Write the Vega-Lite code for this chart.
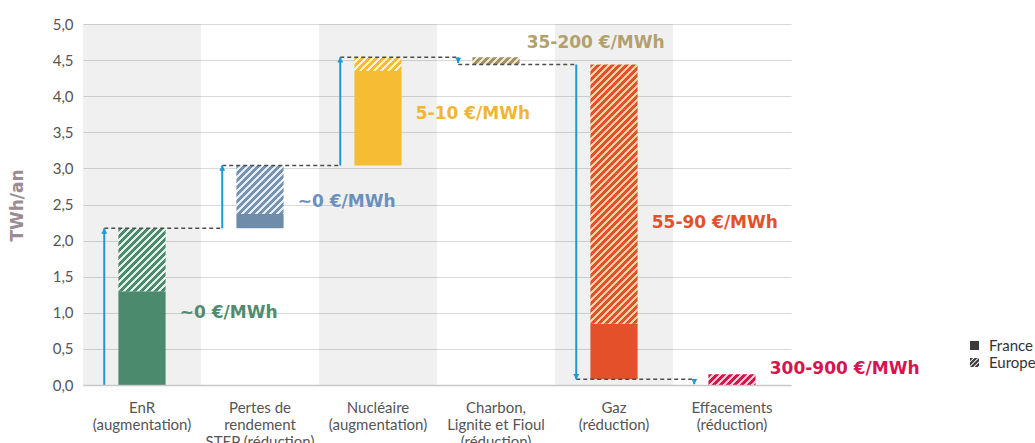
{
"$schema": "https://vega.github.io/schema/vega-lite/v6.json",
"width": 708,
"height": 361,
"autosize": "none",
"padding": {"left": 83, "top": 24, "right": 244, "bottom": 58},
"background": "white",
"config": {"view": {"stroke": null}, "font": "Lato",
"axisY": {"tickCount": 20, "grid": true, "gridColor": "#d9d9d9", "gridWidth": 1.2, "domain": false, "ticks": false, "labelFont": "Lato", "labelFontSize": 15, "labelColor": "#555555", "labelPadding": 10}},
"datasets": {
"bands": [{"cat": "EnR|(augmentation)"}, {"cat": "Nucléaire|(augmentation)"}, {"cat": "Gaz|(réduction)"}],
"bars": [
{"cat": "EnR|(augmentation)", "region": "France", "y0": 0, "y1": 1.3},
{"cat": "EnR|(augmentation)", "region": "Europe", "y0": 1.3, "y1": 2.17},
{"cat": "Pertes de|rendement|STEP (réduction)", "region": "France", "y0": 2.17, "y1": 2.37},
{"cat": "Pertes de|rendement|STEP (réduction)", "region": "Europe", "y0": 2.37, "y1": 3.04},
{"cat": "Nucléaire|(augmentation)", "region": "France", "y0": 3.04, "y1": 4.35},
{"cat": "Nucléaire|(augmentation)", "region": "Europe", "y0": 4.35, "y1": 4.54},
{"cat": "Charbon,|Lignite et Fioul|(réduction)", "region": "Europe", "y0": 4.44, "y1": 4.54},
{"cat": "Gaz|(réduction)", "region": "France", "y0": 0.08, "y1": 0.85},
{"cat": "Gaz|(réduction)", "region": "Europe", "y0": 0.85, "y1": 4.44},
{"cat": "Effacements|(réduction)", "region": "Europe", "y0": 0, "y1": 0.15}
],
"arrows": [
{"cat": "EnR|(augmentation)", "from": 0, "to": 2.17},
{"cat": "Pertes de|rendement|STEP (réduction)", "from": 2.17, "to": 3.04},
{"cat": "Nucléaire|(augmentation)", "from": 3.04, "to": 4.54},
{"cat": "Charbon,|Lignite et Fioul|(réduction)", "from": 4.54, "to": 4.46},
{"cat": "Gaz|(réduction)", "from": 4.44, "to": 0.08},
{"cat": "Effacements|(réduction)", "from": 0.08, "to": 0.01}
],
"links": [
{"from": "EnR|(augmentation)", "to": "Pertes de|rendement|STEP (réduction)", "y": 2.17},
{"from": "Pertes de|rendement|STEP (réduction)", "to": "Nucléaire|(augmentation)", "y": 3.04},
{"from": "Nucléaire|(augmentation)", "to": "Charbon,|Lignite et Fioul|(réduction)", "y": 4.54},
{"from": "Charbon,|Lignite et Fioul|(réduction)", "to": "Gaz|(réduction)", "y": 4.44},
{"from": "Gaz|(réduction)", "to": "Effacements|(réduction)", "y": 0.08}
],
"notes": [
{"cat": "EnR|(augmentation)", "label": "~0 €/MWh", "y": 1.0},
{"cat": "Pertes de|rendement|STEP (réduction)", "label": "~0 €/MWh", "y": 2.54},
{"cat": "Nucléaire|(augmentation)", "label": "5-10 €/MWh", "y": 3.75},
{"cat": "Charbon,|Lignite et Fioul|(réduction)", "label": "35-200 €/MWh", "y": 4.73},
{"cat": "Gaz|(réduction)", "label": "55-90 €/MWh", "y": 2.24},
{"cat": "Effacements|(réduction)", "label": "300-900 €/MWh", "y": 0.22}
]
},
"encoding": {
"x": {"field": "cat", "type": "nominal",
"scale": {"domain": ["EnR|(augmentation)", "Pertes de|rendement|STEP (réduction)", "Nucléaire|(augmentation)", "Charbon,|Lignite et Fioul|(réduction)", "Gaz|(réduction)", "Effacements|(réduction)"], "paddingInner": 0, "paddingOuter": 0},
"axis": {"title": null, "labelAngle": 0, "labelExpr": "split(datum.label, '|')", "labelFont": "Lato", "labelFontSize": 15, "labelColor": "#555555", "labelLineHeight": 17, "labelPadding": 15, "ticks": false, "domain": true, "domainColor": "#c8c8c8", "domainWidth": 1.5, "labelLimit": 300}}
},
"layer": [
{"data": {"name": "bands"}, "mark": {"type": "rect", "color": "#000000", "opacity": 0.06},
"encoding": {"y": {"value": 0}, "y2": {"value": "height"}}},
{"data": {"name": "bars"}, "transform": [{"filter": "datum.region === 'France'"}],
"mark": {"type": "bar", "width": {"band": 0.4}},
"encoding": {
"y": {"field": "y0", "type": "quantitative", "title": "TWh/an", "scale": {"domain": [0, 5], "nice": false},
"axis": {"tickCount": 20, "values": [0, 0.5, 1, 1.5, 2, 2.5, 3, 3.5, 4, 4.5, 5], "labelOverlap": false, "grid": true, "gridColor": "#d9d9d9", "gridWidth": 1.2, "domain": false, "ticks": false, "labelExpr": "replace(format(datum.value, '.1f'), '.', ',')", "labelFont": "Lato", "labelFontSize": 15, "labelColor": "#555555", "labelPadding": 10, "title": "TWh/an", "titleFont": "DejaVu Sans", "titleFontSize": 17, "titleFontWeight": "bold", "titleColor": "#9b8b93", "titleX": -57, "titleY": 181, "titleAngle": 270, "titleAlign": "center"}},
"y2": {"field": "y1"},
"color": {"field": "cat", "type": "nominal", "legend": null,
"scale": {"domain": ["EnR|(augmentation)", "Pertes de|rendement|STEP (réduction)", "Nucléaire|(augmentation)", "Charbon,|Lignite et Fioul|(réduction)", "Gaz|(réduction)", "Effacements|(réduction)"], "range": ["#4b8a6d", "#6f8caa", "#f6bc33", "#a09260", "#e4502a", "#d4164f"]}}
}},
{"data": {"name": "bars"}, "transform": [{"filter": "datum.region === 'Europe' && datum.cat === 'EnR|(augmentation)'"}],
"mark": {"type": "bar", "width": {"band": 0.4}, "color": {"gradient": "linear", "x1": 0, "y1": 0, "x2": 2.3549, "y2": 3.1339, "stops": [
{"offset":0,"color":"#4b8a6d"},{"offset":0.013,"color":"#4b8a6d"},{"offset":0.013,"color":"#e2efe8"},{"offset":0.0227,"color":"#e2efe8"},
{"offset":0.0227,"color":"#4b8a6d"},{"offset":0.0357,"color":"#4b8a6d"},{"offset":0.0357,"color":"#e2efe8"},{"offset":0.0455,"color":"#e2efe8"},
{"offset":0.0455,"color":"#4b8a6d"},{"offset":0.0584,"color":"#4b8a6d"},{"offset":0.0584,"color":"#e2efe8"},{"offset":0.0682,"color":"#e2efe8"},
{"offset":0.0682,"color":"#4b8a6d"},{"offset":0.0812,"color":"#4b8a6d"},{"offset":0.0812,"color":"#e2efe8"},{"offset":0.0909,"color":"#e2efe8"},
{"offset":0.0909,"color":"#4b8a6d"},{"offset":0.1039,"color":"#4b8a6d"},{"offset":0.1039,"color":"#e2efe8"},{"offset":0.1136,"color":"#e2efe8"},
{"offset":0.1136,"color":"#4b8a6d"},{"offset":0.1266,"color":"#4b8a6d"},{"offset":0.1266,"color":"#e2efe8"},{"offset":0.1364,"color":"#e2efe8"},
{"offset":0.1364,"color":"#4b8a6d"},{"offset":0.1494,"color":"#4b8a6d"},{"offset":0.1494,"color":"#e2efe8"},{"offset":0.1591,"color":"#e2efe8"},
{"offset":0.1591,"color":"#4b8a6d"},{"offset":0.1721,"color":"#4b8a6d"},{"offset":0.1721,"color":"#e2efe8"},{"offset":0.1818,"color":"#e2efe8"},
{"offset":0.1818,"color":"#4b8a6d"},{"offset":0.1948,"color":"#4b8a6d"},{"offset":0.1948,"color":"#e2efe8"},{"offset":0.2045,"color":"#e2efe8"},
{"offset":0.2045,"color":"#4b8a6d"},{"offset":0.2175,"color":"#4b8a6d"},{"offset":0.2175,"color":"#e2efe8"},{"offset":0.2273,"color":"#e2efe8"},
{"offset":0.2273,"color":"#4b8a6d"},{"offset":0.2403,"color":"#4b8a6d"},{"offset":0.2403,"color":"#e2efe8"},{"offset":0.25,"color":"#e2efe8"},
{"offset":0.25,"color":"#4b8a6d"},{"offset":0.263,"color":"#4b8a6d"},{"offset":0.263,"color":"#e2efe8"},{"offset":0.2727,"color":"#e2efe8"},
{"offset":0.2727,"color":"#4b8a6d"},{"offset":0.2857,"color":"#4b8a6d"},{"offset":0.2857,"color":"#e2efe8"},{"offset":0.2955,"color":"#e2efe8"},
{"offset":0.2955,"color":"#4b8a6d"},{"offset":0.3084,"color":"#4b8a6d"},{"offset":0.3084,"color":"#e2efe8"},{"offset":0.3182,"color":"#e2efe8"},
{"offset":0.3182,"color":"#4b8a6d"},{"offset":0.3312,"color":"#4b8a6d"},{"offset":0.3312,"color":"#e2efe8"},{"offset":0.3409,"color":"#e2efe8"},
{"offset":0.3409,"color":"#4b8a6d"},{"offset":0.3539,"color":"#4b8a6d"},{"offset":0.3539,"color":"#e2efe8"},{"offset":0.3636,"color":"#e2efe8"}
]}},
"encoding": {"y": {"field": "y0", "type": "quantitative", "title": "TWh/an"}, "y2": {"field": "y1"}}},
{"data": {"name": "bars"}, "transform": [{"filter": "datum.region === 'Europe' && datum.cat === 'Pertes de|rendement|STEP (réduction)'"}],
"mark": {"type": "bar", "width": {"band": 0.4}, "color": {"gradient": "linear", "x1": 0, "y1": 0, "x2": 3.1826, "y2": 3.2618, "stops": [
{"offset":0,"color":"#7693b0"},{"offset":0.013,"color":"#7693b0"},{"offset":0.013,"color":"#e6ecf3"},{"offset":0.0227,"color":"#e6ecf3"},
{"offset":0.0227,"color":"#7693b0"},{"offset":0.0357,"color":"#7693b0"},{"offset":0.0357,"color":"#e6ecf3"},{"offset":0.0455,"color":"#e6ecf3"},
{"offset":0.0455,"color":"#7693b0"},{"offset":0.0584,"color":"#7693b0"},{"offset":0.0584,"color":"#e6ecf3"},{"offset":0.0682,"color":"#e6ecf3"},
{"offset":0.0682,"color":"#7693b0"},{"offset":0.0812,"color":"#7693b0"},{"offset":0.0812,"color":"#e6ecf3"},{"offset":0.0909,"color":"#e6ecf3"},
{"offset":0.0909,"color":"#7693b0"},{"offset":0.1039,"color":"#7693b0"},{"offset":0.1039,"color":"#e6ecf3"},{"offset":0.1136,"color":"#e6ecf3"},
{"offset":0.1136,"color":"#7693b0"},{"offset":0.1266,"color":"#7693b0"},{"offset":0.1266,"color":"#e6ecf3"},{"offset":0.1364,"color":"#e6ecf3"},
{"offset":0.1364,"color":"#7693b0"},{"offset":0.1494,"color":"#7693b0"},{"offset":0.1494,"color":"#e6ecf3"},{"offset":0.1591,"color":"#e6ecf3"},
{"offset":0.1591,"color":"#7693b0"},{"offset":0.1721,"color":"#7693b0"},{"offset":0.1721,"color":"#e6ecf3"},{"offset":0.1818,"color":"#e6ecf3"},
{"offset":0.1818,"color":"#7693b0"},{"offset":0.1948,"color":"#7693b0"},{"offset":0.1948,"color":"#e6ecf3"},{"offset":0.2045,"color":"#e6ecf3"},
{"offset":0.2045,"color":"#7693b0"},{"offset":0.2175,"color":"#7693b0"},{"offset":0.2175,"color":"#e6ecf3"},{"offset":0.2273,"color":"#e6ecf3"},
{"offset":0.2273,"color":"#7693b0"},{"offset":0.2403,"color":"#7693b0"},{"offset":0.2403,"color":"#e6ecf3"},{"offset":0.25,"color":"#e6ecf3"},
{"offset":0.25,"color":"#7693b0"},{"offset":0.263,"color":"#7693b0"},{"offset":0.263,"color":"#e6ecf3"},{"offset":0.2727,"color":"#e6ecf3"},
{"offset":0.2727,"color":"#7693b0"},{"offset":0.2857,"color":"#7693b0"},{"offset":0.2857,"color":"#e6ecf3"},{"offset":0.2955,"color":"#e6ecf3"},
{"offset":0.2955,"color":"#7693b0"},{"offset":0.3084,"color":"#7693b0"},{"offset":0.3084,"color":"#e6ecf3"},{"offset":0.3182,"color":"#e6ecf3"}
]}},
"encoding": {"y": {"field": "y0", "type": "quantitative", "title": "TWh/an"}, "y2": {"field": "y1"}}},
{"data": {"name": "bars"}, "transform": [{"filter": "datum.region === 'Europe' && datum.cat === 'Nucléaire|(augmentation)'"}],
"mark": {"type": "bar", "width": {"band": 0.4}, "color": {"gradient": "linear", "x1": 0, "y1": 0, "x2": 6.0172, "y2": 1.7488, "stops": [
{"offset":0,"color":"#f6bc33"},{"offset":0.013,"color":"#f6bc33"},{"offset":0.013,"color":"#fdf1d2"},{"offset":0.0227,"color":"#fdf1d2"},
{"offset":0.0227,"color":"#f6bc33"},{"offset":0.0357,"color":"#f6bc33"},{"offset":0.0357,"color":"#fdf1d2"},{"offset":0.0455,"color":"#fdf1d2"},
{"offset":0.0455,"color":"#f6bc33"},{"offset":0.0584,"color":"#f6bc33"},{"offset":0.0584,"color":"#fdf1d2"},{"offset":0.0682,"color":"#fdf1d2"},
{"offset":0.0682,"color":"#f6bc33"},{"offset":0.0812,"color":"#f6bc33"},{"offset":0.0812,"color":"#fdf1d2"},{"offset":0.0909,"color":"#fdf1d2"},
{"offset":0.0909,"color":"#f6bc33"},{"offset":0.1039,"color":"#f6bc33"},{"offset":0.1039,"color":"#fdf1d2"},{"offset":0.1136,"color":"#fdf1d2"},
{"offset":0.1136,"color":"#f6bc33"},{"offset":0.1266,"color":"#f6bc33"},{"offset":0.1266,"color":"#fdf1d2"},{"offset":0.1364,"color":"#fdf1d2"},
{"offset":0.1364,"color":"#f6bc33"},{"offset":0.1494,"color":"#f6bc33"},{"offset":0.1494,"color":"#fdf1d2"},{"offset":0.1591,"color":"#fdf1d2"},
{"offset":0.1591,"color":"#f6bc33"},{"offset":0.1721,"color":"#f6bc33"},{"offset":0.1721,"color":"#fdf1d2"},{"offset":0.1818,"color":"#fdf1d2"},
{"offset":0.1818,"color":"#f6bc33"},{"offset":0.1948,"color":"#f6bc33"},{"offset":0.1948,"color":"#fdf1d2"},{"offset":0.2045,"color":"#fdf1d2"}
]}},
"encoding": {"y": {"field": "y0", "type": "quantitative", "title": "TWh/an"}, "y2": {"field": "y1"}}},
{"data": {"name": "bars"}, "transform": [{"filter": "datum.region === 'Europe' && datum.cat === 'Charbon,|Lignite et Fioul|(réduction)'"}],
"mark": {"type": "bar", "width": {"band": 0.4}, "color": {"gradient": "linear", "x1": 0, "y1": 0, "x2": 6.3762, "y2": 0.9753, "stops": [
{"offset":0,"color":"#a09260"},{"offset":0.013,"color":"#a09260"},{"offset":0.013,"color":"#ebe5cf"},{"offset":0.0227,"color":"#ebe5cf"},
{"offset":0.0227,"color":"#a09260"},{"offset":0.0357,"color":"#a09260"},{"offset":0.0357,"color":"#ebe5cf"},{"offset":0.0455,"color":"#ebe5cf"},
{"offset":0.0455,"color":"#a09260"},{"offset":0.0584,"color":"#a09260"},{"offset":0.0584,"color":"#ebe5cf"},{"offset":0.0682,"color":"#ebe5cf"},
{"offset":0.0682,"color":"#a09260"},{"offset":0.0812,"color":"#a09260"},{"offset":0.0812,"color":"#ebe5cf"},{"offset":0.0909,"color":"#ebe5cf"},
{"offset":0.0909,"color":"#a09260"},{"offset":0.1039,"color":"#a09260"},{"offset":0.1039,"color":"#ebe5cf"},{"offset":0.1136,"color":"#ebe5cf"},
{"offset":0.1136,"color":"#a09260"},{"offset":0.1266,"color":"#a09260"},{"offset":0.1266,"color":"#ebe5cf"},{"offset":0.1364,"color":"#ebe5cf"},
{"offset":0.1364,"color":"#a09260"},{"offset":0.1494,"color":"#a09260"},{"offset":0.1494,"color":"#ebe5cf"},{"offset":0.1591,"color":"#ebe5cf"},
{"offset":0.1591,"color":"#a09260"},{"offset":0.1721,"color":"#a09260"},{"offset":0.1721,"color":"#ebe5cf"},{"offset":0.1818,"color":"#ebe5cf"}
]}},
"encoding": {"y": {"field": "y0", "type": "quantitative", "title": "TWh/an"}, "y2": {"field": "y1"}}},
{"data": {"name": "bars"}, "transform": [{"filter": "datum.region === 'Europe' && datum.cat === 'Gaz|(réduction)'"}],
"mark": {"type": "bar", "width": {"band": 0.4}, "color": {"gradient": "linear", "x1": 0, "y1": 0, "x2": 0.2094, "y2": 1.1501, "stops": [
{"offset":0,"color":"#e4502a"},{"offset":0.013,"color":"#e4502a"},{"offset":0.013,"color":"#f8d2a4"},{"offset":0.0227,"color":"#f8d2a4"},
{"offset":0.0227,"color":"#e4502a"},{"offset":0.0357,"color":"#e4502a"},{"offset":0.0357,"color":"#f8d2a4"},{"offset":0.0455,"color":"#f8d2a4"},
{"offset":0.0455,"color":"#e4502a"},{"offset":0.0584,"color":"#e4502a"},{"offset":0.0584,"color":"#f8d2a4"},{"offset":0.0682,"color":"#f8d2a4"},
{"offset":0.0682,"color":"#e4502a"},{"offset":0.0812,"color":"#e4502a"},{"offset":0.0812,"color":"#f8d2a4"},{"offset":0.0909,"color":"#f8d2a4"},
{"offset":0.0909,"color":"#e4502a"},{"offset":0.1039,"color":"#e4502a"},{"offset":0.1039,"color":"#f8d2a4"},{"offset":0.1136,"color":"#f8d2a4"},
{"offset":0.1136,"color":"#e4502a"},{"offset":0.1266,"color":"#e4502a"},{"offset":0.1266,"color":"#f8d2a4"},{"offset":0.1364,"color":"#f8d2a4"},
{"offset":0.1364,"color":"#e4502a"},{"offset":0.1494,"color":"#e4502a"},{"offset":0.1494,"color":"#f8d2a4"},{"offset":0.1591,"color":"#f8d2a4"},
{"offset":0.1591,"color":"#e4502a"},{"offset":0.1721,"color":"#e4502a"},{"offset":0.1721,"color":"#f8d2a4"},{"offset":0.1818,"color":"#f8d2a4"},
{"offset":0.1818,"color":"#e4502a"},{"offset":0.1948,"color":"#e4502a"},{"offset":0.1948,"color":"#f8d2a4"},{"offset":0.2045,"color":"#f8d2a4"},
{"offset":0.2045,"color":"#e4502a"},{"offset":0.2175,"color":"#e4502a"},{"offset":0.2175,"color":"#f8d2a4"},{"offset":0.2273,"color":"#f8d2a4"},
{"offset":0.2273,"color":"#e4502a"},{"offset":0.2403,"color":"#e4502a"},{"offset":0.2403,"color":"#f8d2a4"},{"offset":0.25,"color":"#f8d2a4"},
{"offset":0.25,"color":"#e4502a"},{"offset":0.263,"color":"#e4502a"},{"offset":0.263,"color":"#f8d2a4"},{"offset":0.2727,"color":"#f8d2a4"},
{"offset":0.2727,"color":"#e4502a"},{"offset":0.2857,"color":"#e4502a"},{"offset":0.2857,"color":"#f8d2a4"},{"offset":0.2955,"color":"#f8d2a4"},
{"offset":0.2955,"color":"#e4502a"},{"offset":0.3084,"color":"#e4502a"},{"offset":0.3084,"color":"#f8d2a4"},{"offset":0.3182,"color":"#f8d2a4"},
{"offset":0.3182,"color":"#e4502a"},{"offset":0.3312,"color":"#e4502a"},{"offset":0.3312,"color":"#f8d2a4"},{"offset":0.3409,"color":"#f8d2a4"},
{"offset":0.3409,"color":"#e4502a"},{"offset":0.3539,"color":"#e4502a"},{"offset":0.3539,"color":"#f8d2a4"},{"offset":0.3636,"color":"#f8d2a4"},
{"offset":0.3636,"color":"#e4502a"},{"offset":0.3766,"color":"#e4502a"},{"offset":0.3766,"color":"#f8d2a4"},{"offset":0.3864,"color":"#f8d2a4"},
{"offset":0.3864,"color":"#e4502a"},{"offset":0.3994,"color":"#e4502a"},{"offset":0.3994,"color":"#f8d2a4"},{"offset":0.4091,"color":"#f8d2a4"},
{"offset":0.4091,"color":"#e4502a"},{"offset":0.4221,"color":"#e4502a"},{"offset":0.4221,"color":"#f8d2a4"},{"offset":0.4318,"color":"#f8d2a4"},
{"offset":0.4318,"color":"#e4502a"},{"offset":0.4448,"color":"#e4502a"},{"offset":0.4448,"color":"#f8d2a4"},{"offset":0.4545,"color":"#f8d2a4"},
{"offset":0.4545,"color":"#e4502a"},{"offset":0.4675,"color":"#e4502a"},{"offset":0.4675,"color":"#f8d2a4"},{"offset":0.4773,"color":"#f8d2a4"},
{"offset":0.4773,"color":"#e4502a"},{"offset":0.4903,"color":"#e4502a"},{"offset":0.4903,"color":"#f8d2a4"},{"offset":0.5,"color":"#f8d2a4"},
{"offset":0.5,"color":"#e4502a"},{"offset":0.513,"color":"#e4502a"},{"offset":0.513,"color":"#f8d2a4"},{"offset":0.5227,"color":"#f8d2a4"},
{"offset":0.5227,"color":"#e4502a"},{"offset":0.5357,"color":"#e4502a"},{"offset":0.5357,"color":"#f8d2a4"},{"offset":0.5455,"color":"#f8d2a4"},
{"offset":0.5455,"color":"#e4502a"},{"offset":0.5584,"color":"#e4502a"},{"offset":0.5584,"color":"#f8d2a4"},{"offset":0.5682,"color":"#f8d2a4"},
{"offset":0.5682,"color":"#e4502a"},{"offset":0.5812,"color":"#e4502a"},{"offset":0.5812,"color":"#f8d2a4"},{"offset":0.5909,"color":"#f8d2a4"},
{"offset":0.5909,"color":"#e4502a"},{"offset":0.6039,"color":"#e4502a"},{"offset":0.6039,"color":"#f8d2a4"},{"offset":0.6136,"color":"#f8d2a4"},
{"offset":0.6136,"color":"#e4502a"},{"offset":0.6266,"color":"#e4502a"},{"offset":0.6266,"color":"#f8d2a4"},{"offset":0.6364,"color":"#f8d2a4"},
{"offset":0.6364,"color":"#e4502a"},{"offset":0.6494,"color":"#e4502a"},{"offset":0.6494,"color":"#f8d2a4"},{"offset":0.6591,"color":"#f8d2a4"},
{"offset":0.6591,"color":"#e4502a"},{"offset":0.6721,"color":"#e4502a"},{"offset":0.6721,"color":"#f8d2a4"},{"offset":0.6818,"color":"#f8d2a4"},
{"offset":0.6818,"color":"#e4502a"},{"offset":0.6948,"color":"#e4502a"},{"offset":0.6948,"color":"#f8d2a4"},{"offset":0.7045,"color":"#f8d2a4"},
{"offset":0.7045,"color":"#e4502a"},{"offset":0.7175,"color":"#e4502a"},{"offset":0.7175,"color":"#f8d2a4"},{"offset":0.7273,"color":"#f8d2a4"},
{"offset":0.7273,"color":"#e4502a"},{"offset":0.7403,"color":"#e4502a"},{"offset":0.7403,"color":"#f8d2a4"},{"offset":0.75,"color":"#f8d2a4"},
{"offset":0.75,"color":"#e4502a"},{"offset":0.763,"color":"#e4502a"},{"offset":0.763,"color":"#f8d2a4"},{"offset":0.7727,"color":"#f8d2a4"},
{"offset":0.7727,"color":"#e4502a"},{"offset":0.7857,"color":"#e4502a"},{"offset":0.7857,"color":"#f8d2a4"},{"offset":0.7955,"color":"#f8d2a4"},
{"offset":0.7955,"color":"#e4502a"},{"offset":0.8084,"color":"#e4502a"},{"offset":0.8084,"color":"#f8d2a4"},{"offset":0.8182,"color":"#f8d2a4"},
{"offset":0.8182,"color":"#e4502a"},{"offset":0.8312,"color":"#e4502a"},{"offset":0.8312,"color":"#f8d2a4"},{"offset":0.8409,"color":"#f8d2a4"},
{"offset":0.8409,"color":"#e4502a"},{"offset":0.8539,"color":"#e4502a"},{"offset":0.8539,"color":"#f8d2a4"},{"offset":0.8636,"color":"#f8d2a4"},
{"offset":0.8636,"color":"#e4502a"},{"offset":0.8766,"color":"#e4502a"},{"offset":0.8766,"color":"#f8d2a4"},{"offset":0.8864,"color":"#f8d2a4"},
{"offset":0.8864,"color":"#e4502a"},{"offset":0.8994,"color":"#e4502a"},{"offset":0.8994,"color":"#f8d2a4"},{"offset":0.9091,"color":"#f8d2a4"},
{"offset":0.9091,"color":"#e4502a"},{"offset":0.9221,"color":"#e4502a"},{"offset":0.9221,"color":"#f8d2a4"},{"offset":0.9318,"color":"#f8d2a4"},
{"offset":0.9318,"color":"#e4502a"},{"offset":0.9448,"color":"#e4502a"},{"offset":0.9448,"color":"#f8d2a4"},{"offset":0.9545,"color":"#f8d2a4"},
{"offset":0.9545,"color":"#e4502a"},{"offset":0.9675,"color":"#e4502a"},{"offset":0.9675,"color":"#f8d2a4"},{"offset":0.9773,"color":"#f8d2a4"},
{"offset":0.9773,"color":"#e4502a"},{"offset":0.9903,"color":"#e4502a"},{"offset":0.9903,"color":"#f8d2a4"},{"offset":1,"color":"#f8d2a4"}
]}},
"encoding": {"y": {"field": "y0", "type": "quantitative", "title": "TWh/an"}, "y2": {"field": "y1"}}},
{"data": {"name": "bars"}, "transform": [{"filter": "datum.region === 'Europe' && datum.cat === 'Effacements|(réduction)'"}],
"mark": {"type": "bar", "width": {"band": 0.4}, "color": {"gradient": "linear", "x1": 0, "y1": 0, "x2": 6.199, "y2": 1.4224, "stops": [
{"offset":0,"color":"#d4164f"},{"offset":0.013,"color":"#d4164f"},{"offset":0.013,"color":"#f7c9d5"},{"offset":0.0227,"color":"#f7c9d5"},
{"offset":0.0227,"color":"#d4164f"},{"offset":0.0357,"color":"#d4164f"},{"offset":0.0357,"color":"#f7c9d5"},{"offset":0.0455,"color":"#f7c9d5"},
{"offset":0.0455,"color":"#d4164f"},{"offset":0.0584,"color":"#d4164f"},{"offset":0.0584,"color":"#f7c9d5"},{"offset":0.0682,"color":"#f7c9d5"},
{"offset":0.0682,"color":"#d4164f"},{"offset":0.0812,"color":"#d4164f"},{"offset":0.0812,"color":"#f7c9d5"},{"offset":0.0909,"color":"#f7c9d5"},
{"offset":0.0909,"color":"#d4164f"},{"offset":0.1039,"color":"#d4164f"},{"offset":0.1039,"color":"#f7c9d5"},{"offset":0.1136,"color":"#f7c9d5"},
{"offset":0.1136,"color":"#d4164f"},{"offset":0.1266,"color":"#d4164f"},{"offset":0.1266,"color":"#f7c9d5"},{"offset":0.1364,"color":"#f7c9d5"},
{"offset":0.1364,"color":"#d4164f"},{"offset":0.1494,"color":"#d4164f"},{"offset":0.1494,"color":"#f7c9d5"},{"offset":0.1591,"color":"#f7c9d5"},
{"offset":0.1591,"color":"#d4164f"},{"offset":0.1721,"color":"#d4164f"},{"offset":0.1721,"color":"#f7c9d5"},{"offset":0.1818,"color":"#f7c9d5"},
{"offset":0.1818,"color":"#d4164f"},{"offset":0.1948,"color":"#d4164f"},{"offset":0.1948,"color":"#f7c9d5"},{"offset":0.2045,"color":"#f7c9d5"}
]}},
"encoding": {"y": {"field": "y0", "type": "quantitative", "title": "TWh/an"}, "y2": {"field": "y1"}}},
{"data": {"name": "links"}, "mark": {"type": "rule", "color": "#4d4d4d", "strokeWidth": 1.5, "strokeDash": [4, 3]},
"encoding": {"x": {"field": "from", "type": "nominal", "bandPosition": 0.18}, "x2": {"field": "to", "bandPosition": 0.18}, "y": {"field": "y", "type": "quantitative", "title": "TWh/an"}}},
{"data": {"name": "arrows"}, "mark": {"type": "rule", "color": "#1b9ad6", "strokeWidth": 2},
"encoding": {"x": {"field": "cat", "type": "nominal", "bandPosition": 0.18}, "y": {"field": "from", "type": "quantitative", "title": "TWh/an"}, "y2": {"field": "to"}}},
{"data": {"name": "arrows"}, "transform": [{"filter": "datum.to > datum.from"}],
"mark": {"type": "point", "shape": "M0,0L-0.85,1.5L0.85,1.5Z", "filled": true, "color": "#1b9ad6", "size": 50, "opacity": 1},
"encoding": {"x": {"field": "cat", "type": "nominal", "bandPosition": 0.18}, "y": {"field": "to", "type": "quantitative", "title": "TWh/an"}}},
{"data": {"name": "arrows"}, "transform": [{"filter": "datum.to < datum.from"}],
"mark": {"type": "point", "shape": "M0,0L-0.85,-1.5L0.85,-1.5Z", "filled": true, "color": "#1b9ad6", "size": 50, "opacity": 1},
"encoding": {"x": {"field": "cat", "type": "nominal", "bandPosition": 0.18}, "y": {"field": "to", "type": "quantitative", "title": "TWh/an"}}},
{"data": {"name": "notes"}, "transform": [{"filter": "datum.cat !== 'Charbon,|Lignite et Fioul|(réduction)'"}],
"mark": {"type": "text", "align": "left", "baseline": "middle", "font": "DejaVu Sans", "fontWeight": "bold", "fontSize": 17},
"encoding": {"x": {"field": "cat", "type": "nominal", "bandPosition": 0.82}, "y": {"field": "y", "type": "quantitative", "title": "TWh/an"}, "text": {"field": "label"},
"fill": {"field": "cat", "type": "nominal", "legend": null, "scale": {"domain": ["EnR|(augmentation)", "Pertes de|rendement|STEP (réduction)", "Nucléaire|(augmentation)", "Charbon,|Lignite et Fioul|(réduction)", "Gaz|(réduction)", "Effacements|(réduction)"], "range": ["#4f8c70", "#6b90bd", "#f2b531", "#b2a06f", "#e4502a", "#d4164f"]}}}},
{"data": {"name": "notes"}, "transform": [{"filter": "datum.cat === 'Charbon,|Lignite et Fioul|(réduction)'"}],
"mark": {"type": "text", "align": "left", "baseline": "middle", "font": "DejaVu Sans", "fontWeight": "bold", "fontSize": 17},
"encoding": {"x": {"field": "cat", "type": "nominal", "bandPosition": 0.76}, "y": {"field": "y", "type": "quantitative", "title": "TWh/an"}, "text": {"field": "label"},
"fill": {"field": "cat", "type": "nominal", "legend": null, "scale": {"domain": ["EnR|(augmentation)", "Pertes de|rendement|STEP (réduction)", "Nucléaire|(augmentation)", "Charbon,|Lignite et Fioul|(réduction)", "Gaz|(réduction)", "Effacements|(réduction)"], "range": ["#4f8c70", "#6b90bd", "#f2b531", "#b2a06f", "#e4502a", "#d4164f"]}}}},
{"data": {"name": "bars"}, "mark": {"type": "point", "filled": true, "opacity": 0, "color": "#3c3c3c"},
"encoding": {"y": {"field": "y1", "type": "quantitative", "title": "TWh/an"},
"shape": {"field": "region", "type": "nominal",
"scale": {"domain": ["France", "Europe"], "range": ["square", "M-1,-1L-0.3,-1L-1,-0.3ZM-1,0L0,-1L0.7,-1L-1,0.7ZM-1,1L1,-1L1,-0.3L-0.3,1ZM0,1L1,0L1,0.7L0.7,1Z"]},
"legend": {"title": null, "orient": "none", "legendX": 884, "legendY": 314, "padding": 0, "symbolSize": 81, "symbolFillColor": "#3c3c3c", "symbolStrokeWidth": 0, "symbolOpacity": 1, "labelFont": "Lato", "labelFontSize": 15, "labelColor": "#333333", "labelOffset": 7, "rowPadding": 1}}}}
]
}
